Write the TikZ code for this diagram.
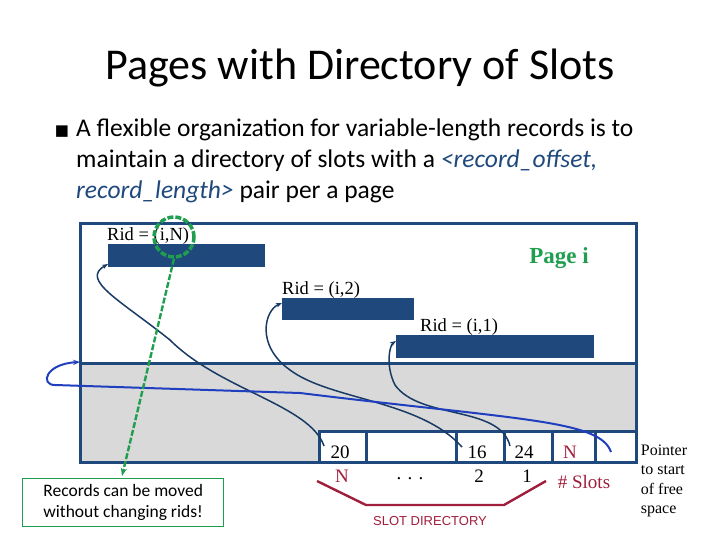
\documentclass[tikz,border=0pt]{standalone}
\usepackage{fontspec}
\setmainfont{Carlito}
\newfontfamily\tms{Liberation Serif}
\newfontfamily\ars{Liberation Sans}
\newfontfamily\djv{DejaVu Sans}
\usetikzlibrary{arrows.meta}
\definecolor{navy}{HTML}{1F497D}
\definecolor{grn}{HTML}{1E9E4E}
\definecolor{rd}{HTML}{A01E3C}
\definecolor{bl}{HTML}{1F3FBF}
\definecolor{gr}{HTML}{D9D9D9}
\tikzset{bar/.style={fill=navy,draw=none},
 rid/.style={font=\tms\fontsize{18.5}{18.5}\selectfont,anchor=south west,inner sep=0pt},
 cell/.style={font=\tms\fontsize{19}{19}\selectfont},
 curve/.style={draw=navy!80!black,line width=1.5pt,-{Stealth[length=6pt]}}}
\begin{document}
\begin{tikzpicture}[x=1pt,y=-1pt]
\useasboundingbox (0,0) rectangle (720,540);
\node[font=\fontsize{44}{44}\selectfont] (title) at (360,68) {Pages with Directory of Slots};
\node[anchor=north west,align=left,font=\fontsize{25.5}{31}\selectfont,inner sep=0pt] (bul) at (76,119)
 {A flexible organization for variable-length records is to\\maintain a directory of slots with a \textcolor{navy}{\itshape <record\_offset,}\\\textcolor{navy}{\itshape record\_length>} pair per a page};
\node[font=\djv\fontsize{15}{15}\selectfont] at (62,132) {■};
% page
\fill[gr] (80,363) rectangle (636,431);
\fill[gr] (80,431) rectangle (319,462);
\draw[navy,line width=3pt] (80,224) rectangle (636,462);
\draw[navy,line width=3pt] (80,363) -- (636,363);
\draw[navy,line width=3pt] (319,462) -- (319,431) -- (636,431);
\foreach \x in {366,456,504,552,595} \draw[navy,line width=3pt] (\x,431) -- (\x,462);
\node[cell] (c20) at (340,452) {20};
\node[cell] (c16) at (477,452) {16};
\node[cell] (c24) at (524,452) {24};
\node[cell,text=rd] (cN) at (570,452) {N};
\coordinate (cfree) at (611,452);
\node[cell,text=rd] at (342,476) {N};
\node[cell] at (410,479) {. . .};
\node[cell] at (479,476) {2};
\node[cell] at (527,476) {1};
\node[cell,text=rd] (slots) at (584,482) {\# Slots};
\draw[rd,line width=2.4pt] (317,481) -- (366,505) -- (504,505) -- (546,481);
\node[font=\ars\fontsize{13}{13}\selectfont,text=rd] at (430,521) {SLOT DIRECTORY};
% bars
\fill[bar] (108,244) rectangle (265,267); \coordinate (b1) at (108,264);
\fill[bar] (282,298) rectangle (414,320); \coordinate (b2) at (282,303);
\fill[bar] (396,335) rectangle (594,358); \coordinate (b3) at (396,341);
\node[rid] at (107,245) {Rid = (i,N)};
\node[rid] at (282,299) {Rid = (i,2)};
\node[rid] at (420,336) {Rid = (i,1)};
\node[font=\tms\bfseries\fontsize{23}{23}\selectfont,text=grn] (pg) at (559,258) {Page i};
% curves
\draw[curve] (324,446) .. controls (310,405) and (220,390) .. (170,340) .. controls (120,300) and (80,280) .. (b1);
\draw[curve] (462,447) .. controls (420,400) and (330,400) .. (290,370) .. controls (255,345) and (265,310) .. (b2);
\draw[curve] (510,446) .. controls (500,405) and (420,420) .. (395,385) .. controls (385,365) and (390,345) .. (b3);
\draw[bl,line width=2pt,-{Stealth[length=7pt]}] (cfree) .. controls (600,420) and (520,420) .. (300,393) -- (55,385) .. controls (40,385) and (45,364) .. (80,362);
% green
\node[draw=grn,line width=3.5pt,dash pattern=on 6pt off 2pt,circle,minimum size=40pt] (gc) at (174,237) {};
\draw[grn,line width=2.4pt,dash pattern=on 6pt off 2pt,-{Stealth[length=8pt]}] (gc.south) -- (122,476);
\node[draw=grn,line width=1.4pt,anchor=north west,align=left,font=\fontsize{17.5}{21}\selectfont,minimum width=201pt,minimum height=48pt,inner xsep=6pt] (rec) at (22,478) {Records can be moved\\without changing rids!};
\node[font=\tms\fontsize{16}{19.5}\selectfont,align=left] (ptr) at (664,481) {Pointer\\to start\\of free\\space};
\end{tikzpicture}
\end{document}
